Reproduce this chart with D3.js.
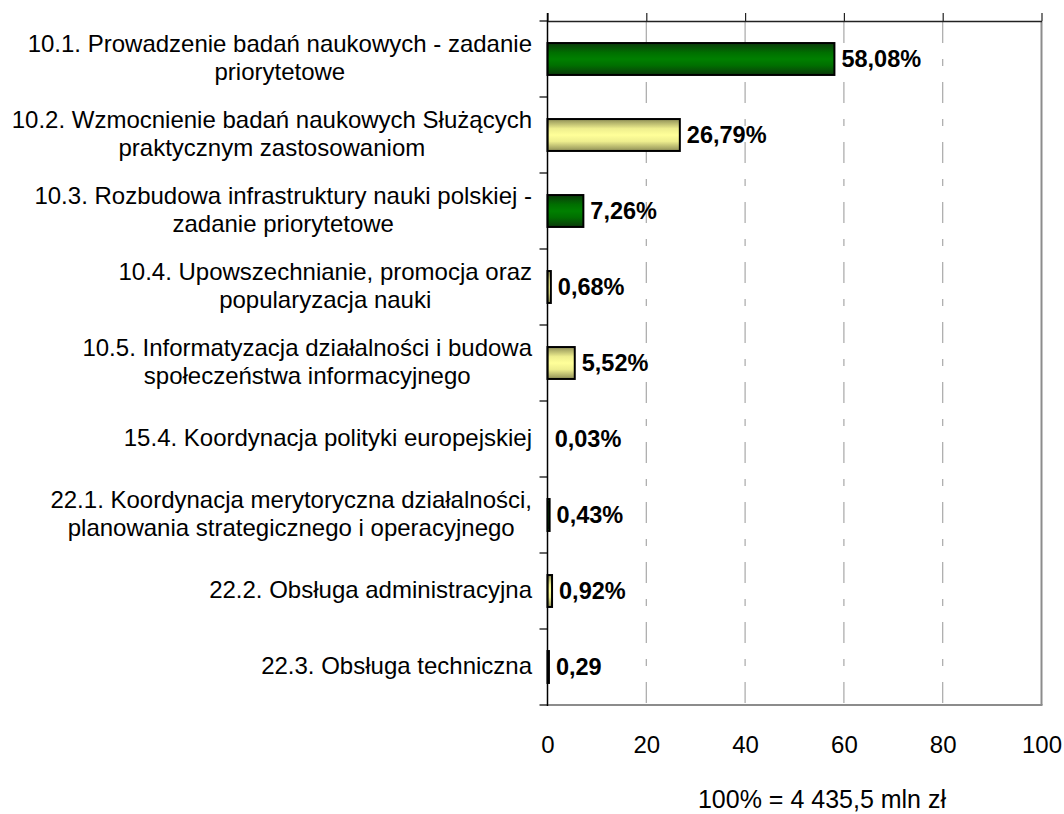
<!DOCTYPE html>
<html><head><meta charset="utf-8">
<script src="https://cdn.jsdelivr.net/npm/d3@7"></script>
<style>
html,body{margin:0;padding:0;background:#fff;}
text{font-family:"Liberation Sans",Arial,sans-serif;}
</style>
</head><body>
<svg id="chart" width="1064" height="814"></svg>
<script>
// ---- data ----
const categories = [
  ["10.1. Prowadzenie badań naukowych - zadanie", "priorytetowe"],
  ["10.2. Wzmocnienie badań naukowych Służących", "praktycznym zastosowaniom"],
  ["10.3. Rozbudowa infrastruktury nauki polskiej -", "zadanie priorytetowe"],
  ["10.4. Upowszechnianie, promocja oraz", "popularyzacja nauki"],
  ["10.5. Informatyzacja działalności i budowa", "społeczeństwa informacyjnego"],
  ["15.4. Koordynacja polityki europejskiej"],
  ["22.1. Koordynacja merytoryczna działalności,", "planowania strategicznego i operacyjnego"],
  ["22.2. Obsługa administracyjna"],
  ["22.3. Obsługa techniczna"]
];
const values = [58.08, 26.79, 7.26, 0.68, 5.52, 0.03, 0.43, 0.92, 0.29];
const valueLabels = ["58,08%", "26,79%", "7,26%", "0,68%", "5,52%", "0,03%", "0,43%", "0,92%", "0,29"];
const barType = ["green", "yellow", "green", "yellow", "yellow", "yellow", "green", "yellow", "green"];
const xTicks = [0, 20, 40, 60, 80, 100];
const footnote = "100% = 4 435,5 mln zł";

// ---- layout ----
const svg = d3.select("#chart");
const pL = 547.5, pR = 1041.5, pT = 21, pB = 705;
const x = d3.scaleLinear().domain([0, 100]).range([pL, pR]);
const idx = d3.range(categories.length);
const y = d3.scaleBand().domain(idx).range([pT, pB]).paddingInner(0.58).paddingOuter(0.29);
const yb = d3.scaleBand().domain(idx).range([pT, pB]).padding(0);

const defs = svg.append("defs");
function grad(id, edge, mid, center) {
  const g = defs.append("linearGradient").attr("id", id).attr("x1", 0).attr("x2", 0).attr("y1", 0).attr("y2", 1);
  g.append("stop").attr("offset", "0%").attr("stop-color", edge);
  g.append("stop").attr("offset", "30%").attr("stop-color", mid);
  g.append("stop").attr("offset", "50%").attr("stop-color", center);
  g.append("stop").attr("offset", "70%").attr("stop-color", mid);
  g.append("stop").attr("offset", "100%").attr("stop-color", edge);
}
grad("g-green", "#0b3a0b", "#006f00", "#008000");
grad("g-yellow", "#8e8e56", "#eeee8e", "#ffff99");

// gridlines
svg.append("g").selectAll("line").data(xTicks.filter(d => d > 0 && d < 100)).join("line")
  .attr("x1", d => x(d)).attr("x2", d => x(d))
  .attr("y1", pT + 1).attr("y2", pB)
  .attr("stroke", "#a8a8a8").attr("stroke-width", 1.2)
  .attr("stroke-dasharray", "21,16,7,16");

// frame right and bottom (gray)
svg.append("line").attr("x1", pR).attr("x2", pR).attr("y1", pT).attr("y2", pB)
  .attr("stroke", "#8c8c8c").attr("stroke-width", 2);
svg.append("line").attr("x1", pL).attr("x2", pR + 1).attr("y1", pB).attr("y2", pB)
  .attr("stroke", "#8c8c8c").attr("stroke-width", 2);

// top axis (ticks upward, no labels)
const topAxis = svg.append("g").attr("transform", `translate(0,${pT})`)
  .call(d3.axisTop(x).tickValues(xTicks).tickSize(8).tickSizeOuter(0).tickFormat(""));
topAxis.select(".domain").attr("stroke", "#222").attr("stroke-width", 1.5);
topAxis.selectAll(".tick line").attr("stroke", "#222").attr("stroke-width", 1.2);

// bottom tick labels
const botAxis = svg.append("g").attr("transform", `translate(0,${pB})`)
  .call(d3.axisBottom(x).tickValues(xTicks).tickSize(0).tickPadding(31).tickFormat(d => d));
botAxis.select(".domain").remove();
botAxis.selectAll("text").attr("font-size", 24).attr("fill", "#000")
  .attr("font-family", '"Liberation Sans",Arial,sans-serif');

// bars
svg.append("g").selectAll("rect").data(idx).join("rect")
  .attr("x", x(0))
  .attr("y", i => y(i))
  .attr("width", i => Math.max(0, x(values[i]) - x(0)))
  .attr("height", y.bandwidth())
  .attr("fill", i => `url(#g-${barType[i]})`)
  .attr("stroke", i => values[i] > 0.1 ? "#000" : "none")
  .attr("stroke-width", 2);

// left axis (category boundaries ticks)
const bounds = idx.map(i => yb(i)).concat([pB]);
svg.append("line").attr("x1", pL).attr("x2", pL).attr("y1", pT - 8).attr("y2", pB + 1)
  .attr("stroke", "#000").attr("stroke-width", 1.5);
svg.append("g").selectAll("line").data(bounds).join("line")
  .attr("x1", pL - 8).attr("x2", pL).attr("y1", d => d).attr("y2", d => d)
  .attr("stroke", "#000").attr("stroke-width", 1.2);

// value labels
svg.append("g").selectAll("text").data(idx).join("text")
  .attr("x", i => x(values[i]) + 7)
  .attr("y", i => y(i) + y.bandwidth() / 2 + 8)
  .attr("font-size", 23.5).attr("font-weight", "bold").attr("fill", "#000")
  .text(i => valueLabels[i]);

// category labels: lines centered within block, block right-aligned
const labelRight = 532, lineH = 28;
const lg = svg.append("g");
idx.forEach(i => {
  const lines = categories[i];
  const cy = yb(i) + yb.bandwidth() / 2;
  const texts = lines.map((t, k) => lg.append("text")
    .attr("font-size", 24).attr("fill", "#000")
    .attr("text-anchor", "middle")
    .attr("y", cy + (k - (lines.length - 1) / 2) * lineH + 7)
    .text(t));
  const w = d3.max(texts, t => t.node().getComputedTextLength());
  texts.forEach(t => t.attr("x", labelRight - w / 2));
});

// footnote
svg.append("text").attr("x", 822).attr("y", 808).attr("text-anchor", "middle")
  .attr("font-size", 25).attr("fill", "#000").text(footnote);
</script>
</body></html>
